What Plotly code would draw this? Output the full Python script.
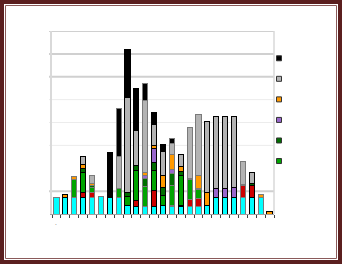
import plotly.graph_objects as go

categories = list(range(25))

cyan = [0.74, 0.72, 0.72, 0.72, 0.72, 0.77, 0.72, 0.72, 0.35, 0.33, 0.33, 0.33, 0.38,
        0.33, 0.33, 0.33, 0.33, 0.38, 0.74, 0.74, 0.74, 0.74, 0.74, 0.74, 0]
red = [0, 0, 0, 0.23, 0.22, 0, 0, 0, 0, 0.28, 0, 0.71, 0, 0.06, 0.06, 0.32, 0.33,
       0, 0, 0, 0, 0.52, 0.51, 0, 0]
green = [0, 0, 0.80, 0.87, 0.22, 0, 0, 0.41, 0.42, 1.29, 0.87, 0.86, 0.45, 0.86, 1.28,
         0.84, 0.42, 0, 0, 0, 0, 0, 0, 0, 0]
dkgreen = [0, 0, 0, 0.17, 0.08, 0, 0, 0, 0.19, 0.20, 0.36, 0.36, 0.33, 0.52, 0.19,
           0.07, 0.05, 0, 0, 0, 0, 0.03, 0.07, 0, 0]
purple = [0, 0, 0, 0, 0, 0, 0, 0, 0, 0, 0.12, 0.61, 0, 0.17, 0, 0, 0, 0, 0.38, 0.38,
          0.43, 0, 0, 0, 0]
orange = [0, 0.12, 0.13, 0.17, 0.08, 0, 0, 0, 0, 0, 0.14, 0.13, 0.51, 0.68, 0.20, 0,
          0.57, 0.58, 0, 0, 0, 0, 0, 0.13, 0.09]
gray = [0, 0, 0, 0.36, 0.38, 0, 0, 1.38, 4.12, 1.57, 3.14, 0.91, 1.06, 0.45, 0.54,
        2.23, 2.65, 3.09, 3.14, 3.14, 3.09, 1.01, 0.51, 0, 0]
black = [0, 0, 0, 0, 0, 0, 1.99, 2.12, 2.12, 1.83, 0.74, 0.54, 0.33, 0.23, 0, 0, 0,
         0, 0, 0, 0, 0, 0, 0, 0]

series = [
    ("cyan", cyan, "#00ffff", False),
    ("red", red, "#cc0000", False),
    ("green", green, "#00a400", True),
    ("dkgreen", dkgreen, "#006e00", True),
    ("purple", purple, "#9966cc", True),
    ("orange", orange, "#ff9900", True),
    ("gray", gray, "#b3b3b3", True),
    ("black", black, "#000000", True),
]

edge_colors = ["#7a7a7a", "#000", "#7a7a7a", "#000", "#7a7a7a", "#7a7a7a", "#000",
               "#7a7a7a", "#000", "#000", "#7a7a7a", "#000", "#000", "#7a7a7a", "#000",
               "#7a7a7a", "#7a7a7a", "#000", "#000", "#000", "#000", "#7a7a7a", "#000",
               "#7a7a7a", "#000"]

grid_levels = [1, 3, 4, 5, 6, 7, 8]
grid_thick = [True, False, False, False, True, True, True]

fig = go.Figure()
for name, vals, col, _ in series:
    fig.add_trace(go.Bar(
        x=categories, y=[v if v else None for v in vals], name=name,
        marker=dict(color=col, line=dict(color=edge_colors, width=1)),
        showlegend=False,
    ))

# legend entries (top to bottom: black, gray, orange, purple, dark green, green)
for name, vals, col, inleg in reversed(series):
    if not inleg:
        continue
    fig.add_trace(go.Scatter(
        x=[None], y=[None], mode="markers", name="",
        marker=dict(symbol="square", size=5, color=col, line=dict(color="#333", width=1)),
        showlegend=True,
    ))

L, R, T, B = 52, 68, 31, 50
W, H = 342, 264
pw, ph = W - L - R, H - T - B

def px(x):
    return (x - L) / pw

def py(y):
    return (H - B - y) / ph

shapes = []
for lv, thick in zip(grid_levels, grid_thick):
    shapes.append(dict(type="line", xref="paper", yref="y", x0=px(49), x1=1, y0=lv, y1=lv,
                       line=dict(color="#d0d0d0" if thick else "#ececec",
                                 width=2 if thick else 1), layer="below"))
shapes.append(dict(type="line", xref="paper", yref="paper", x0=1, x1=1, y0=0, y1=1,
                   line=dict(color="#d9d9d9", width=1.5)))
# frame
shapes.append(dict(type="rect", xref="paper", yref="paper",
                   x0=px(2), x1=px(W - 2), y0=py(2), y1=py(H - 2),
                   line=dict(color="#5b1f1f", width=4)))
shapes.append(dict(type="rect", xref="paper", yref="paper",
                   x0=px(5.5), x1=px(W - 5.5), y0=py(5.5), y1=py(H - 5.5),
                   line=dict(color="#8a5a5a", width=1)))

fig.update_layout(
    width=W, height=H,
    margin=dict(l=L, r=R, t=T, b=B),
    paper_bgcolor="white", plot_bgcolor="white",
    barmode="stack", bargap=0.42,
    shapes=shapes,
    showlegend=True,
    legend=dict(x=px(259), xanchor="left", y=py(43), yanchor="top",
                traceorder="normal", font=dict(size=13.5, color="#000"),
                bgcolor="rgba(0,0,0,0)", borderwidth=0, itemwidth=30),
    annotations=[dict(text=".", x=px(53), y=py(229), xref="paper", yref="paper",
                      showarrow=False, font=dict(size=7, color="#888"))],
    xaxis=dict(range=[-0.5, 24.5], showgrid=False, zeroline=False, showline=True,
               linecolor="#a0a0a0", linewidth=1, ticks="outside", ticklen=3,
               tickcolor="#404040", tickvals=[i - 0.5 for i in range(26)],
               ticktext=["" for _ in range(26)], fixedrange=True),
    yaxis=dict(range=[0, 8], showgrid=False, zeroline=False, showline=True,
               linecolor="#d9d9d9", linewidth=1.5, showticklabels=False, fixedrange=True),
)

fig.write_html("out.html", include_plotlyjs=True, config={"displayModeBar": False})
